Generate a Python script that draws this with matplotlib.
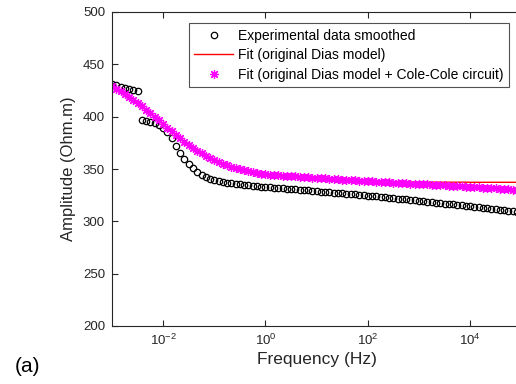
import numpy as np
import matplotlib
matplotlib.use('Agg')
import matplotlib.pyplot as plt
from matplotlib.ticker import NullLocator

plt.rcParams['font.family'] = ['Liberation Sans', 'DejaVu Sans']

# frequency grid, 12 points per decade from 1 mHz to 100 kHz
freq = np.logspace(-3, 5, 97)

exp_data = [
    431.0, 430.0, 428.6, 427.6, 426.9, 425.7, 424.3, 396.6, 396.3, 395.3,
    394.0, 392.1, 389.3, 385.2, 379.3, 372.4, 365.6, 359.6, 354.6, 350.5,
    347.3, 344.7, 342.6, 340.9, 339.5, 338.4, 337.5, 336.8, 336.2, 335.7,
    335.2, 334.8, 334.4, 334.0, 333.6, 333.2, 332.9, 332.6, 332.2, 331.9,
    331.6, 331.2, 330.9, 330.5, 330.2, 329.8, 329.5, 329.1, 328.8, 328.5,
    328.1, 327.8, 327.4, 327.1, 326.7, 326.4, 326.0, 325.7, 325.3, 325.0,
    324.6, 324.2, 323.8, 323.4, 323.0, 322.6, 322.2, 321.8, 321.4, 320.9,
    320.5, 320.1, 319.6, 319.2, 318.8, 318.3, 317.9, 317.5, 317.0, 316.6,
    316.2, 315.7, 315.3, 314.8, 314.4, 313.9, 313.4, 312.9, 312.5, 312.0,
    311.5, 311.0, 310.5, 310.0, 309.5, 309.1, 308.6,
]

fit_cole = [
    429.0, 426.6, 424.1, 421.5, 418.8, 416.0, 413.0, 409.9, 406.7, 403.3,
    399.9, 396.4, 392.9, 389.4, 385.9, 382.5, 379.2, 376.0, 373.0, 370.1,
    367.4, 364.9, 362.6, 360.5, 358.5, 356.7, 355.0, 353.5, 352.1, 350.8,
    349.7, 348.6, 347.7, 346.8, 346.1, 345.4, 344.8, 344.5, 344.2, 344.0,
    343.7, 343.4, 343.1, 342.9, 342.6, 342.3, 342.0, 341.8, 341.5, 341.2,
    341.0, 340.7, 340.4, 340.2, 339.9, 339.6, 339.4, 339.1, 338.8, 338.6,
    338.3, 338.1, 337.9, 337.6, 337.4, 337.2, 337.0, 336.7, 336.5, 336.3,
    336.1, 335.8, 335.6, 335.4, 335.2, 335.0, 334.7, 334.5, 334.3, 334.1,
    333.9, 333.7, 333.4, 333.2, 333.0, 332.7, 332.5, 332.2, 331.9, 331.6,
    331.4, 331.1, 330.8, 330.5, 330.3, 330.0, 329.8,
]

fit_dias = [
    429.0, 426.6, 424.1, 421.5, 418.8, 416.0, 413.0, 409.9, 406.7, 403.3,
    399.9, 396.4, 392.9, 389.4, 385.9, 382.5, 379.2, 376.0, 373.0, 370.1,
    367.4, 364.9, 362.6, 360.5, 358.5, 356.7, 355.0, 353.5, 352.1, 350.8,
    349.7, 348.6, 347.7, 346.8, 346.1, 345.4, 344.8, 344.5, 344.2, 344.0,
    343.7, 343.4, 343.1, 342.9, 342.6, 342.3, 342.0, 341.8, 341.5, 341.0,
    340.6, 340.2, 339.9, 339.6, 339.3, 339.1, 338.9, 338.7, 338.5, 338.4,
    338.3, 338.2, 338.1, 338.0, 337.9, 337.8, 337.7, 337.7, 337.6, 337.6,
    337.5, 337.5, 337.5, 337.4, 337.4, 337.4, 337.4, 337.4, 337.4, 337.4,
    337.4, 337.4, 337.4, 337.4, 337.3, 337.3, 337.3, 337.3, 337.3, 337.3,
    337.3, 337.3, 337.3, 337.3, 337.3, 337.3, 337.3,
]

xtick_vals = [1e-2, 1e0, 1e2, 1e4]
ytick_vals = [200, 250, 300, 350, 400, 450, 500]

dark = '#262626'

fig = plt.figure(figsize=(5.16, 3.84), dpi=100)
# right edge of the axes sits just past the figure edge (as in the reference crop)
ax = fig.add_axes([112 / 516, 58 / 384, (521.25 - 112) / 516, (326 - 12) / 384])

ax.plot(freq, exp_data, linestyle='none', marker='o', markersize=4.6,
        markerfacecolor='none', markeredgecolor='black', markeredgewidth=0.9,
        label='Experimental data smoothed')
ax.plot(freq, fit_dias, color='red', linewidth=1.0,
        label='Fit (original Dias model)')
ax.plot(freq, fit_cole, linestyle='none', marker=(8, 2, 0), markersize=6.5,
        markeredgecolor='magenta', markerfacecolor='magenta', markeredgewidth=0.9,
        label='Fit (original Dias model + Cole-Cole circuit)')

ax.set_xscale('log')
ax.set_xlim(1e-3, 1e5)
ax.set_ylim(200, 500)
ax.set_xticks(xtick_vals)
ax.xaxis.set_minor_locator(NullLocator())
ax.set_yticks(ytick_vals)

ax.tick_params(direction='in', length=4, width=0.8, colors=dark,
               labelsize=9.5, top=True, right=False, pad=5)
for side in ax.spines.values():
    side.set_color(dark)
    side.set_linewidth(0.8)

ax.set_xlabel('Frequency (Hz)', fontsize=12.5, color=dark, labelpad=3)
ax.set_ylabel('Amplitude (Ohm.m)', fontsize=12, color=dark, labelpad=5)

leg = ax.legend(loc='upper right', bbox_to_anchor=(509 / 516, 1 - 23 / 384),
                bbox_transform=fig.transFigure, fontsize=10, frameon=True,
                fancybox=False, edgecolor=dark, handlelength=2.8,
                handletextpad=0.35, borderpad=0.4, labelspacing=0.4,
                borderaxespad=0)
leg.get_frame().set_linewidth(0.8)
for t in leg.get_texts():
    t.set_color('black')

fig.text(15 / 516, 1 - 367 / 384, '(a)', fontsize=15, va='center', ha='left')

fig.savefig('out.png', dpi=100)
